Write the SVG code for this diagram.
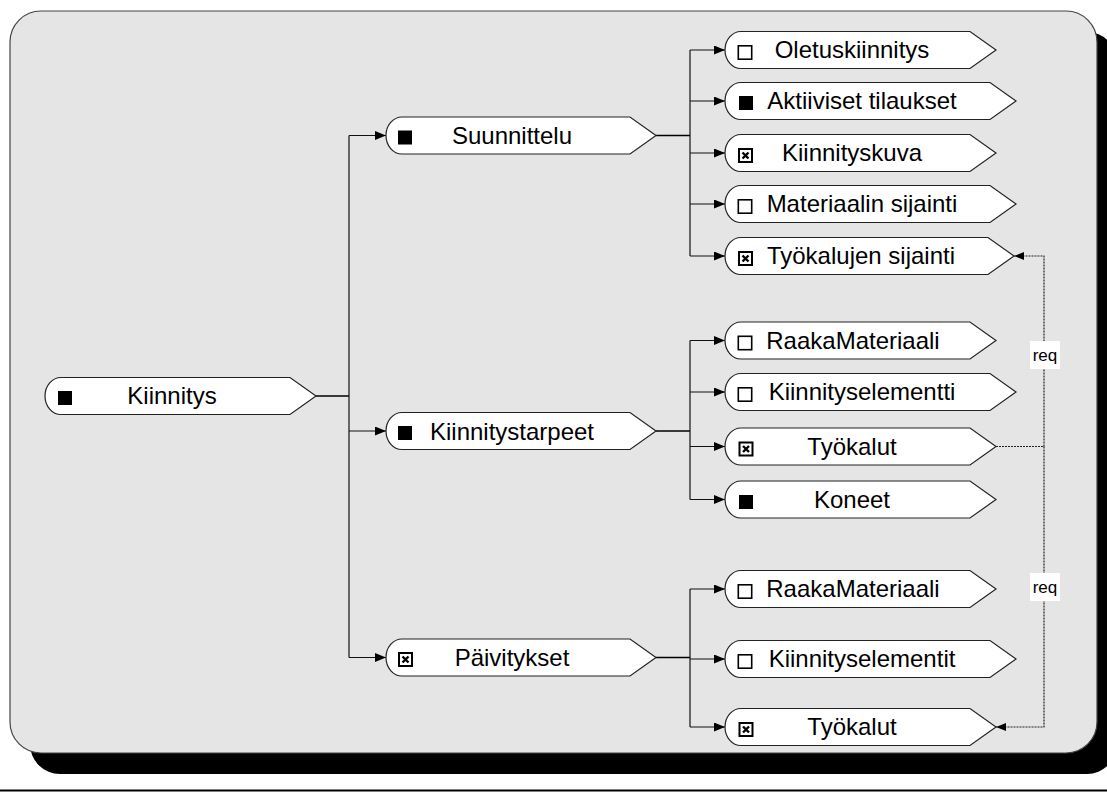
<svg xmlns="http://www.w3.org/2000/svg" xmlns:xlink="http://www.w3.org/1999/xlink" width="1107" height="796" viewBox="0 0 1107 796">
  <style>
    .node { fill: #ffffff; stroke: #222; stroke-width: 1.2; }
    .lbl { font-family: "Liberation Sans", Arial, sans-serif; font-size: 24px; fill: #000; text-anchor: middle; }
    .req { font-family: "Liberation Sans", Arial, sans-serif; font-size: 17px; fill: #000; text-anchor: middle; }
    .wire { fill: none; stroke: #111; stroke-width: 1.2; }
    .stub { fill: none; stroke: #000; stroke-width: 1.6; }
    .dep { fill: none; stroke: #222; stroke-width: 1.2; stroke-dasharray: 2 1; }
  </style>
  <defs>
    <marker id="arr" markerUnits="userSpaceOnUse" markerWidth="11" markerHeight="9" refX="11" refY="4.5" orient="auto">
      <path d="M0,0 L11,4.5 L0,9 z" fill="#000"/>
    </marker>
    <marker id="arr-req" markerUnits="userSpaceOnUse" markerWidth="10" markerHeight="8" refX="10" refY="4" orient="auto">
      <path d="M0,0 L10,4 L0,8 z" fill="#000"/>
    </marker>
    <g id="cb-empty"><rect x="0.8" y="0.8" width="13.4" height="13.4" fill="#fff" stroke="#000" stroke-width="1.6"/></g>
    <g id="cb-fill"><rect x="0.5" y="0.5" width="14" height="14" fill="#000"/></g>
    <g id="cb-x">
      <rect x="1" y="1" width="13" height="13" fill="#fff" stroke="#000" stroke-width="2"/>
      <path d="M4.5,4.5 L10.5,10.5 M10.5,4.5 L4.5,10.5" stroke="#000" stroke-width="2.4"/>
    </g>
  </defs>

  <!-- backdrop: panel with drop shadow and base rule -->
  <g id="backdrop">
    <rect x="30" y="32" width="1087" height="742" rx="30" fill="#000"/>
    <rect x="10" y="11" width="1087" height="742" rx="31" fill="#e5e5e5" stroke="#444" stroke-width="1.2"/>
    <line x1="0" y1="790.5" x2="1107" y2="790.5" stroke="#000" stroke-width="2"/>
  </g>

  <!-- connectors -->
  <g id="connectors">
    <!-- root to second level -->
    <path class="stub" d="M316,396 H349"/>
    <path class="wire" d="M349,135.5 V657.5"/>
    <path class="wire" d="M349,135.5 H386" marker-end="url(#arr)"/>
    <path class="wire" d="M349,431 H386" marker-end="url(#arr)"/>
    <path class="wire" d="M349,657.5 H386" marker-end="url(#arr)"/>

    <!-- Suunnittelu branch -->
    <path class="stub" d="M656,135.5 H690"/>
    <path class="wire" d="M690,50 V256"/>
    <path class="wire" d="M690,50 H725" marker-end="url(#arr)"/>
    <path class="wire" d="M690,101 H725" marker-end="url(#arr)"/>
    <path class="wire" d="M690,153 H725" marker-end="url(#arr)"/>
    <path class="wire" d="M690,204 H725" marker-end="url(#arr)"/>
    <path class="wire" d="M690,256 H725" marker-end="url(#arr)"/>

    <!-- Kiinnitystarpeet branch -->
    <path class="stub" d="M656,431 H690"/>
    <path class="wire" d="M690,340.5 V499.5"/>
    <path class="wire" d="M690,340.5 H725" marker-end="url(#arr)"/>
    <path class="wire" d="M690,392 H725" marker-end="url(#arr)"/>
    <path class="wire" d="M690,446.5 H725" marker-end="url(#arr)"/>
    <path class="wire" d="M690,499.5 H725" marker-end="url(#arr)"/>

    <!-- Päivitykset branch -->
    <path class="stub" d="M656,657.5 H690"/>
    <path class="wire" d="M690,589 V727"/>
    <path class="wire" d="M690,589 H725" marker-end="url(#arr)"/>
    <path class="wire" d="M690,659 H725" marker-end="url(#arr)"/>
    <path class="wire" d="M690,727 H725" marker-end="url(#arr)"/>

    <!-- requires links -->
    <path class="dep" d="M996,446.5 H1044 V256 H1014" marker-end="url(#arr-req)"/>
    <path class="dep" d="M1044,446.5 V727 H996" marker-end="url(#arr-req)"/>
    <rect x="1030" y="341" width="30" height="28" fill="#fff"/>
    <text class="req" x="1045" y="361">req</text>
    <rect x="1030" y="573" width="30" height="28" fill="#fff"/>
    <text class="req" x="1045" y="593">req</text>
  </g>

  <!-- root -->
  <g id="n-kiinnitys">
    <path class="node" d="M61,377.5 H290 L316,396 L290,414.5 H61 A16 18.5 0 0 1 61,377.5 Z"/>
    <use xlink:href="#cb-fill" x="57.5" y="390.5"/>
    <text class="lbl" x="172" y="404">Kiinnitys</text>
  </g>

  <!-- second level -->
  <g id="n-suunnittelu">
    <path class="node" d="M402,117 H630 L656,135.5 L630,154 H402 A16 18.5 0 0 1 402,117 Z"/>
    <use xlink:href="#cb-fill" x="397.5" y="130"/>
    <text class="lbl" x="512" y="144">Suunnittelu</text>
  </g>
  <g id="n-kiinnitystarpeet">
    <path class="node" d="M402,412.5 H630 L656,431 L630,449.5 H402 A16 18.5 0 0 1 402,412.5 Z"/>
    <use xlink:href="#cb-fill" x="397.5" y="425.5"/>
    <text class="lbl" x="512" y="439.5">Kiinnitystarpeet</text>
  </g>
  <g id="n-paivitykset">
    <path class="node" d="M402,639 H630 L656,657.5 L630,676 H402 A16 18.5 0 0 1 402,639 Z"/>
    <use xlink:href="#cb-x" x="398" y="652"/>
    <text class="lbl" x="512" y="666">Päivitykset</text>
  </g>

  <!-- Suunnittelu leaves -->
  <g id="n-oletuskiinnitys">
    <path class="node" d="M741,31.5 H970 L996,50 L970,68.5 H741 A16 18.5 0 0 1 741,31.5 Z"/>
    <use xlink:href="#cb-empty" x="737.5" y="45"/>
    <text class="lbl" x="852" y="57.5">Oletuskiinnitys</text>
  </g>
  <g id="n-aktiiviset">
    <path class="node" d="M741,82.5 H990 L1016,101 L990,119.5 H741 A16 18.5 0 0 1 741,82.5 Z"/>
    <use xlink:href="#cb-fill" x="738.5" y="95.5"/>
    <text class="lbl" x="862" y="109">Aktiiviset tilaukset</text>
  </g>
  <g id="n-kiinnityskuva">
    <path class="node" d="M741,134.5 H970 L996,153 L970,171.5 H741 A16 18.5 0 0 1 741,134.5 Z"/>
    <use xlink:href="#cb-x" x="738" y="148"/>
    <text class="lbl" x="852" y="161">Kiinnityskuva</text>
  </g>
  <g id="n-materiaalin-sijainti">
    <path class="node" d="M741,185.5 H990 L1016,204 L990,222.5 H741 A16 18.5 0 0 1 741,185.5 Z"/>
    <use xlink:href="#cb-empty" x="737.5" y="199"/>
    <text class="lbl" x="862" y="212">Materiaalin sijainti</text>
  </g>
  <g id="n-tyokalujen-sijainti">
    <path class="node" d="M741,237.5 H988 L1014,256 L988,274.5 H741 A16 18.5 0 0 1 741,237.5 Z"/>
    <use xlink:href="#cb-x" x="738" y="251"/>
    <text class="lbl" x="861" y="264">Työkalujen sijainti</text>
  </g>

  <!-- Kiinnitystarpeet leaves -->
  <g id="n-raakamateriaali-1">
    <path class="node" d="M741,322 H970 L996,340.5 L970,359 H741 A16 18.5 0 0 1 741,322 Z"/>
    <use xlink:href="#cb-empty" x="737.5" y="335.5"/>
    <text class="lbl" x="853" y="348.5">RaakaMateriaali</text>
  </g>
  <g id="n-kiinnityselementti">
    <path class="node" d="M741,373.5 H990 L1016,392 L990,410.5 H741 A16 18.5 0 0 1 741,373.5 Z"/>
    <use xlink:href="#cb-empty" x="737.5" y="387"/>
    <text class="lbl" x="862" y="400">Kiinnityselementti</text>
  </g>
  <g id="n-tyokalut-1">
    <path class="node" d="M741,428 H970 L996,446.5 L970,465 H741 A16 18.5 0 0 1 741,428 Z"/>
    <use xlink:href="#cb-x" x="738.5" y="441.5"/>
    <text class="lbl" x="852" y="454.5">Työkalut</text>
  </g>
  <g id="n-koneet">
    <path class="node" d="M741,481 H970 L996,499.5 L970,518 H741 A16 18.5 0 0 1 741,481 Z"/>
    <use xlink:href="#cb-fill" x="738.5" y="494.5"/>
    <text class="lbl" x="852" y="507.5">Koneet</text>
  </g>

  <!-- Päivitykset leaves -->
  <g id="n-raakamateriaali-2">
    <path class="node" d="M741,570.5 H970 L996,589 L970,607.5 H741 A16 18.5 0 0 1 741,570.5 Z"/>
    <use xlink:href="#cb-empty" x="737.5" y="584"/>
    <text class="lbl" x="853" y="597">RaakaMateriaali</text>
  </g>
  <g id="n-kiinnityselementit">
    <path class="node" d="M741,640.5 H990 L1016,659 L990,677.5 H741 A16 18.5 0 0 1 741,640.5 Z"/>
    <use xlink:href="#cb-empty" x="737.5" y="654"/>
    <text class="lbl" x="862" y="667">Kiinnityselementit</text>
  </g>
  <g id="n-tyokalut-2">
    <path class="node" d="M741,708.5 H970 L996,727 L970,745.5 H741 A16 18.5 0 0 1 741,708.5 Z"/>
    <use xlink:href="#cb-x" x="738.5" y="722"/>
    <text class="lbl" x="852" y="735">Työkalut</text>
  </g>
</svg>
